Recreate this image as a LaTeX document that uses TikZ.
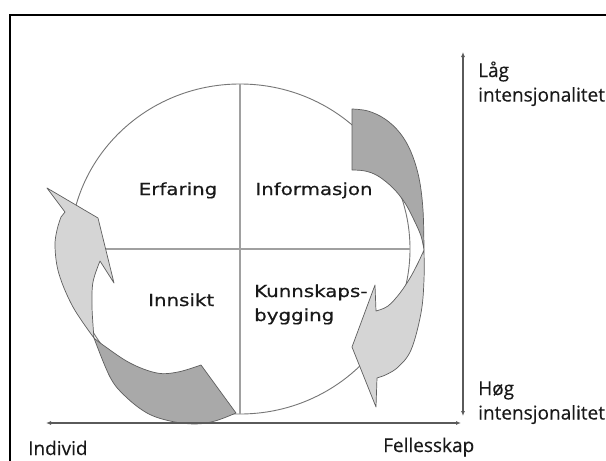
\documentclass[tikz,border=0pt]{standalone}
\usepackage{fontspec}
\usetikzlibrary{arrows.meta}
\newfontfamily\quadfont[FakeStretch=1.2,FakeBold=0.6]{DejaVu Sans}
\newfontfamily\axisfont[FakeBold=0.3]{Open Sans}
\definecolor{ringline}{HTML}{767676}
\definecolor{crossline}{HTML}{A0A0A0}
\definecolor{darkband}{HTML}{A9A9A9}
\definecolor{lightband}{HTML}{D5D5D5}
\definecolor{bandedge}{HTML}{5E5E5E}
\definecolor{axisline}{HTML}{5A5A5A}
\begin{document}
\begin{tikzpicture}[x=1pt,y=-1pt,
  ring/.style={draw=ringline,line width=0.9pt},
  cross/.style={draw=crossline,line width=1.5pt},
  darkpart/.style={fill=darkband,draw=bandedge,line width=0.7pt,line join=round},
  lightpart/.style={fill=lightband,draw=bandedge,line width=0.7pt,line join=round},
  axis/.style={draw=axisline,line width=1.4pt,{Latex[length=5pt,width=4pt]}-{Latex[length=5pt,width=4pt]}},
  quad/.style={font=\quadfont\fontsize{16.5}{24}\selectfont,text=black!90,inner sep=0pt},
  axlabel/.style={font=\axisfont\fontsize{19}{24.5}\selectfont,text=black!90,inner sep=0pt},
]
\useasboundingbox (0,0) rectangle (606,461);
\fill[white] (0,0) rectangle (606,461);

% outer frame
\draw[line width=2.4pt] (10,475) -- (10,15) -- (620,15);

% circle split into four fields
\coordinate (ctop) at (240,84);
\coordinate (cbot) at (240,414);
\coordinate (cleft) at (70,249);
\coordinate (cright) at (410,249);
\draw[ring] (240,249) ellipse [x radius=170, y radius=165];
\draw[cross] (ctop) -- (cbot);
\draw[cross] (cleft) -- (cright);

% right cycle arrow: dark tail band
\filldraw[darkpart] plot[smooth,tension=0.6] coordinates
  {(352,109) (368,111) (385,119) (400,133) (411,152) (419,178) (423,210) (424,250)}
  -- plot[smooth,tension=0.6] coordinates
  {(424,250) (421,236) (414,220) (405,203) (393,188) (378,176) (365,171) (352,170)}
  -- cycle;
% right cycle arrow: light head band
\filldraw[lightpart] plot[smooth,tension=0.6] coordinates
  {(424,250) (424,280) (421,313) (411,350) (397,368) (383,376)}
  -- (377,378) -- (376,407) -- (352,347) -- (375,285) -- (376,311)
  -- plot[smooth,tension=0.6] coordinates
  {(376,311) (388,306) (400,293) (410,278) (418,263) (424,250)}
  -- cycle;

% left cycle arrow: dark tail band
\filldraw[darkpart] plot[smooth,tension=0.6] coordinates
  {(94,338) (103,345) (130,363) (157,373) (178,372) (201,365)}
  -- (236,413)
  -- plot[smooth,tension=0.6] coordinates
  {(236,413) (215,421) (195,424) (170,421) (147,413) (125,396) (110,377) (94,338)}
  -- cycle;
% left cycle arrow: light head band
\filldraw[lightpart] plot[smooth,tension=0.6] coordinates
  {(94,338) (73,307) (59,274) (55,247) (57,230) (61,217)}
  -- (65,212) -- (47,188) -- (98,218) -- (114,283) -- (100,261)
  -- plot[smooth,tension=0.6] coordinates
  {(100,261) (93,282) (92,305) (93,325) (94,338)}
  -- cycle;

% field labels
\node[quad,anchor=base] (erf) at (178,195) {Erfaring};
\node[quad,anchor=base] (inf) at (314,195) {Informasjon};
\node[quad,anchor=base west] (inn) at (148,306) {Innsikt};
\node[quad,anchor=base west] (kun) at (254,297) {\vtop{\hbox{Kunnskaps-}\hbox{bygging}}};

% axes
\coordinate (ytop) at (463,52);
\coordinate (ybot) at (463,416);
\coordinate (xleft) at (46,423);
\coordinate (xright) at (461,423);
\draw[axis] (ytop) -- (ybot);
\draw[axis] (xleft) -- (xright);

% axis labels
\node[axlabel,anchor=base west] (lag) at (478,77) {\vtop{\hbox{Låg}\hbox{intensjonalitet}}};
\node[axlabel,anchor=base west] (hog) at (478,395) {\vtop{\hbox{Høg}\hbox{intensjonalitet}}};
\node[axlabel,anchor=base west] (ind) at (28,455) {Individ};
\node[axlabel,anchor=base west] (fel) at (383,452) {Fellesskap};
\end{tikzpicture}
\end{document}
